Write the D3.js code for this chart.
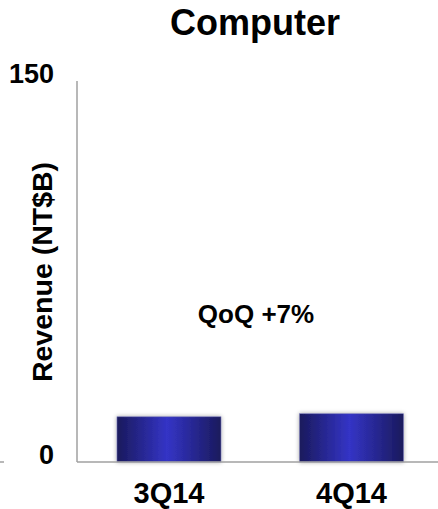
<!DOCTYPE html>
<html>
<head>
<meta charset="utf-8">
<script src="https://cdn.jsdelivr.net/npm/d3@7"></script>
<style>
  body { margin: 0; background: #fff; }
  text { font-family: "Liberation Sans", Arial, sans-serif; font-weight: bold; fill: #000; }
</style>
</head>
<body>
<div id="chart"></div>
<script>
// data
var categories = ["3Q14", "4Q14"];
var revenue = [17.8, 19.0];
var yTicks = [0, 150];
var title = "Computer";
var yLabel = "Revenue (NT$B)";
var note = "QoQ +7%";

var w = 438, h = 509;

var svg = d3.select("#chart").append("svg")
    .attr("width", w)
    .attr("height", h);

var defs = svg.append("defs");
var grad = defs.append("linearGradient")
    .attr("id", "barGrad")
    .attr("x1", "0%").attr("x2", "100%")
    .attr("y1", "0%").attr("y2", "0%");
grad.append("stop").attr("offset", "0%").attr("stop-color", "#1a1a5c");
grad.append("stop").attr("offset", "48%").attr("stop-color", "#3434c6");
grad.append("stop").attr("offset", "100%").attr("stop-color", "#1a1a5c");

var shadow = defs.append("filter").attr("id", "shadow")
    .attr("x", "-10%").attr("y", "-20%").attr("width", "120%").attr("height", "140%");
shadow.append("feDropShadow")
    .attr("dx", 0).attr("dy", 0).attr("stdDeviation", 2)
    .attr("flood-color", "#000").attr("flood-opacity", 0.35);

// scales
var x = d3.scaleBand()
    .domain(categories)
    .range([77, 443.5])
    .paddingInner(0.43)
    .paddingOuter(0.219);

var y = d3.scaleLinear()
    .domain([0, 150])
    .range([462, 81]);

// title
svg.append("text")
    .attr("x", 255)
    .attr("y", 35)
    .attr("text-anchor", "middle")
    .style("font-size", "36px")
    .text(title);

// bars
svg.selectAll(".bar").data(revenue)
  .enter()
  .append("rect")
    .attr("class", "bar")
    .attr("x", function(d, i) { return x(categories[i]); })
    .attr("y", function(d) { return y(d); })
    .attr("width", x.bandwidth())
    .attr("height", function(d) { return y(0) - y(d); })
    .style("fill", "url(#barGrad)")
    .style("stroke", "#7a7ab8")
    .style("stroke-width", 0.6)
    .attr("filter", "url(#shadow)");

// axes lines
svg.append("line")
    .attr("x1", 77).attr("x2", 77)
    .attr("y1", y(150)).attr("y2", y(0))
    .style("stroke", "#a0a0a0").style("stroke-width", 1.5);
svg.append("line")
    .attr("x1", 77).attr("x2", w)
    .attr("y1", y(0)).attr("y2", y(0))
    .style("stroke", "#a0a0a0").style("stroke-width", 1.5);
svg.append("line")
    .attr("x1", 0).attr("x2", 4)
    .attr("y1", y(0)).attr("y2", y(0))
    .style("stroke", "#a0a0a0").style("stroke-width", 1.5);

// y tick labels
svg.selectAll(".ytick").data(yTicks)
  .enter()
  .append("text")
    .attr("class", "ytick")
    .attr("x", 54)
    .attr("y", function(d) { return y(d) + 2; })
    .attr("text-anchor", "end")
    .style("font-size", "27px")
    .text(function(d) { return d; });

// x labels
svg.selectAll(".xlab").data(categories)
  .enter()
  .append("text")
    .attr("class", "xlab")
    .attr("x", function(d) { return x(d) + x.bandwidth() / 2; })
    .attr("y", 503)
    .attr("text-anchor", "middle")
    .style("font-size", "29px")
    .text(function(d) { return d; });

// y axis label
svg.append("text")
    .attr("transform", "translate(52,272) rotate(-90)")
    .attr("text-anchor", "middle")
    .style("font-size", "28.5px")
    .text(yLabel);

// note
svg.append("text")
    .attr("x", 256)
    .attr("y", 323)
    .attr("text-anchor", "middle")
    .style("font-size", "26px")
    .text(note);
</script>
</body>
</html>
